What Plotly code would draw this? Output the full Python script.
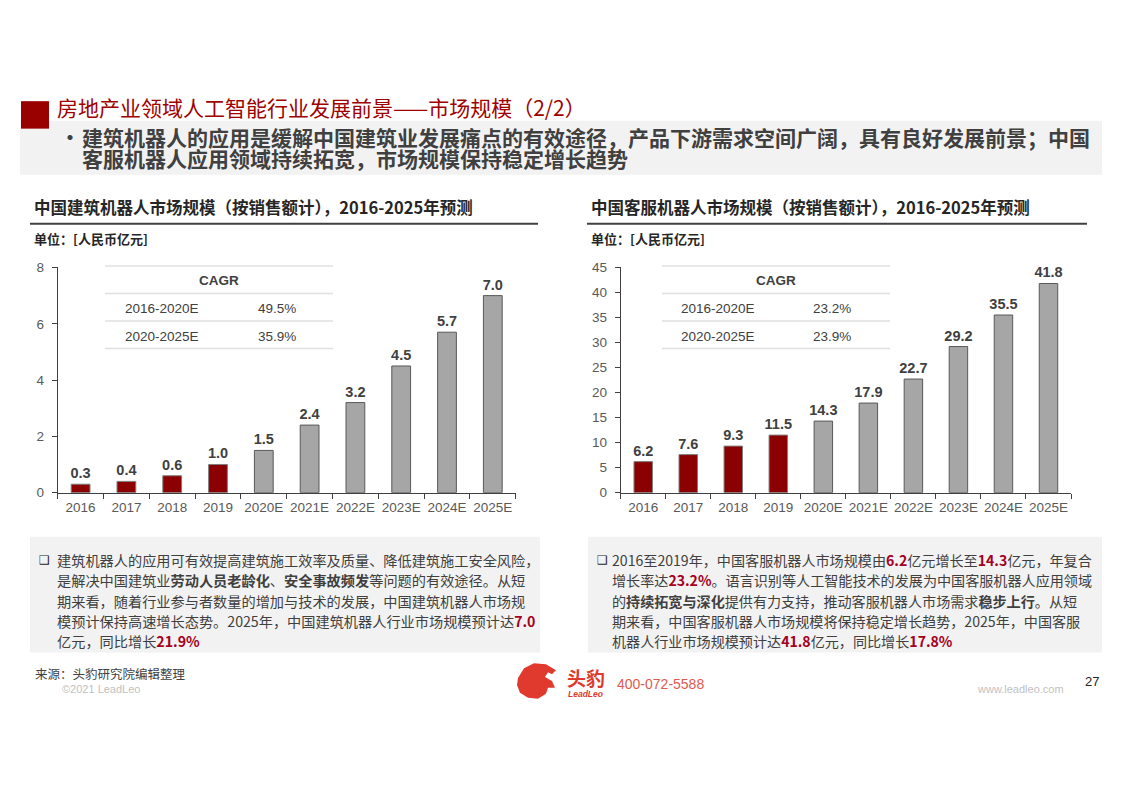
import plotly.graph_objects as go

W, H = 1122, 793

years = ["2016", "2017", "2018", "2019", "2020E", "2021E", "2022E", "2023E", "2024E", "2025E"]
construction_robot = [0.3, 0.4, 0.6, 1.0, 1.5, 2.4, 3.2, 4.5, 5.7, 7.0]
service_robot = [6.2, 7.6, 9.3, 11.5, 14.3, 17.9, 22.7, 29.2, 35.5, 41.8]
cagr_periods = ["2016-2020E", "2020-2025E"]
cagr_construction = ["49.5%", "35.9%"]
cagr_service = ["23.2%", "23.9%"]

RED = "#8b0000"
GRAY = "#a6a6a6"
TXT = "#404040"
HL = "#a50021"
FONT = "Liberation Sans, Noto Sans CJK SC, sans-serif"
CJK = "Noto Sans CJK SC, sans-serif"


def px(x):
    return x / W


def py(y):
    return 1 - y / H


bar_colors = [GRAY if y.endswith("E") else RED for y in years]
line_colors = ["#595959" if y.endswith("E") else "#7f7f7f" for y in years]

fig = go.Figure()
for vals, xa, ya in [(construction_robot, "x", "y"), (service_robot, "x2", "y2")]:
    fig.add_trace(go.Bar(
        x=years, y=vals, xaxis=xa, yaxis=ya, width=0.41,
        marker=dict(color=bar_colors, line=dict(color=line_colors, width=1)),
        text=[f"{v:.1f}" for v in vals], textposition="outside", constraintext="none",
        textfont=dict(family=FONT, size=14.5, color=TXT), texttemplate="<b>%{text}</b>",
        cliponaxis=False, showlegend=False, hoverinfo="skip",
    ))

axis_common = dict(showline=True, linecolor="#404040", linewidth=1, ticks="outside",
                   ticklen=5, tickcolor="#404040", showgrid=False, zeroline=False,
                   tickangle=0,
                   tickfont=dict(family=FONT, size=13.5, color="#595959"))
ydom = [py(495), py(265.5)]
fig.update_layout(
    width=W, height=H, margin=dict(l=0, r=0, t=0, b=0),
    paper_bgcolor="white", plot_bgcolor="rgba(0,0,0,0)",
    xaxis=dict(domain=[px(57.7), px(515.7)], type="category", tickson="boundaries",
               range=[-0.5, 9.5], anchor="y", ticklabelstandoff=2, **axis_common),
    yaxis=dict(domain=ydom, range=[0, 8], dtick=2, anchor="x", ticklabelstandoff=5, **axis_common),
    xaxis2=dict(domain=[px(620.7), px(1071)], type="category", tickson="boundaries",
                range=[-0.5, 9.5], anchor="y2", ticklabelstandoff=2, **axis_common),
    yaxis2=dict(domain=ydom, range=[0, 45], dtick=5, anchor="x2", ticklabelstandoff=5, **axis_common),
    bargap=0.59,
)

shapes = []
ann = []


def rect(x0, y0, x1, y1, color):
    shapes.append(dict(type="rect", xref="paper", yref="paper", x0=px(x0), x1=px(x1),
                       y0=py(y1), y1=py(y0), fillcolor=color, line=dict(width=0), layer="below"))


def hline(x0, x1, y, color, width):
    shapes.append(dict(type="line", xref="paper", yref="paper", x0=px(x0), x1=px(x1),
                       y0=py(y), y1=py(y), line=dict(color=color, width=width)))


def text(x, y, s, size, color=TXT, anchor="left", family=CJK):
    ann.append(dict(x=px(x), y=py(y), xref="paper", yref="paper", text=s, showarrow=False,
                    xanchor=anchor, yanchor="middle", font=dict(family=family, size=size, color=color)))


# header
rect(20, 116, 1102, 171, "#f2f2f2")
rect(21, 96, 49, 124, "#990000")
text(55, 102, "房地产业领域人工智能行业发展前景——市场规模（2/2）", 21, "#a00000")
text(58, 132, "<b>•</b>", 20, "#404040")
text(80, 132, "<b>建筑机器人的应用是缓解中国建筑业发展痛点的有效途径，产品下游需求空间广阔，具有良好发展前景；中国</b>", 21, "#404040")
text(80, 154, "<b>客服机器人应用领域持续拓宽，市场规模保持稳定增长趋势</b>", 21, "#404040")

# chart headers
for x0, x1, title in [(30, 538, "中国建筑机器人市场规模（按销售额计），2016-2025年预测"),
                      (587, 1087, "中国客服机器人市场规模（按销售额计），2016-2025年预测")]:
    text(x0 + 2, 204, f"<b>{title}</b>", 16.5, "#262626")
    hline(x0, x1, 221, "#404040", 2)
    text(x0 + 2, 236, "<b>单位：[人民币亿元]</b>", 13, "#262626")

# CAGR tables
for (xl, xr, xc, xlab, xval, vals) in [(105, 333, 219, 162, 277, cagr_construction),
                                       (662, 890, 776, 718, 832, cagr_service)]:
    for yy in [264, 292, 320, 348]:
        hline(xl, xr, yy, "#e0e0e0", 1.5)
    text(xc, 279, "<b>CAGR</b>", 13.5, TXT, "center", FONT)
    for i, (p, v) in enumerate(zip(cagr_periods, vals)):
        text(xlab, 307 + 28.5 * i, p, 13.5, TXT, "center", FONT)
        text(xval, 307 + 28.5 * i, v, 13.5, TXT, "center", FONT)

# text boxes
rect(30, 540, 540, 658, "#f2f2f2")
rect(588, 540, 1102, 658, "#f2f2f2")


def red(s):
    return f"<b><span style='color:{HL}'>{s}</span></b>"


left_lines = [
    "建筑机器人的应用可有效提高建筑施工效率及质量、降低建筑施工安全风险，",
    "是解决中国建筑业<b>劳动人员老龄化</b>、<b>安全事故频发</b>等问题的有效途径。从短",
    "期来看，随着行业参与者数量的增加与技术的发展，中国建筑机器人市场规",
    "模预计保持高速增长态势。2025年，中国建筑机器人行业市场规模预计达" + red("7.0"),
    "亿元，同比增长" + red("21.9%"),
]
right_lines = [
    "2016至2019年，中国客服机器人市场规模由" + red("6.2") + "亿元增长至" + red("14.3") + "亿元，年复合",
    "增长率达" + red("23.2%") + "。语言识别等人工智能技术的发展为中国客服机器人应用领域",
    "的<b>持续拓宽与深化</b>提供有力支持，推动客服机器人市场需求<b>稳步上行</b>。从短",
    "期来看，中国客服机器人市场规模将保持稳定增长趋势，2025年，中国客服",
    "机器人行业市场规模预计达" + red("41.8") + "亿元，同比增长" + red("17.8%"),
]
text(37, 564, "❑", 12, "#262626", family="DejaVu Sans")
text(595, 564, "❑", 12, "#262626", family="DejaVu Sans")
for i, s in enumerate(left_lines):
    text(55, 564 + 20.5 * i, s, 14.2, TXT)
for i, s in enumerate(right_lines):
    text(610, 564 + 20.5 * i, s, 14.1, TXT)

# footer
text(33, 679, "来源：头豹研究院编辑整理", 12.5, "#404040")
text(60, 695, "©2021 LeadLeo", 11, "#bfbfbf", family=FONT)
logo = [(518, 684), (524, 674), (534, 669), (546, 670), (556, 676), (552, 680), (548, 678),
        (545, 683), (552, 687), (555, 694), (548, 694), (546, 700), (538, 705), (528, 704),
        (520, 699), (517, 691)]
path = "M " + " L ".join(f"{px(x):.5f},{py(y):.5f}" for x, y in logo) + " Z"
shapes.append(dict(type="path", xref="paper", yref="paper", path=path,
                   fillcolor="#e03a2f", line=dict(width=0)))
text(565, 683, "<b>头豹</b>", 19, "#e03a2f")
text(566, 700, "<b><i>LeadLeo</i></b>", 8.5, "#e03a2f", family=FONT)
text(615, 690, "400-072-5588", 14, "#e05a50", family=FONT)
text(975, 695, "www.leadleo.com", 11, "#bfbfbf", family=FONT)
text(1083, 687, "27", 13, "#262626", family=FONT)

fig.update_layout(shapes=shapes, annotations=ann)
fig.write_html("out.html", config={"displayModeBar": False},
               post_script="document.body.style.margin='0';document.body.style.overflow='hidden';")
